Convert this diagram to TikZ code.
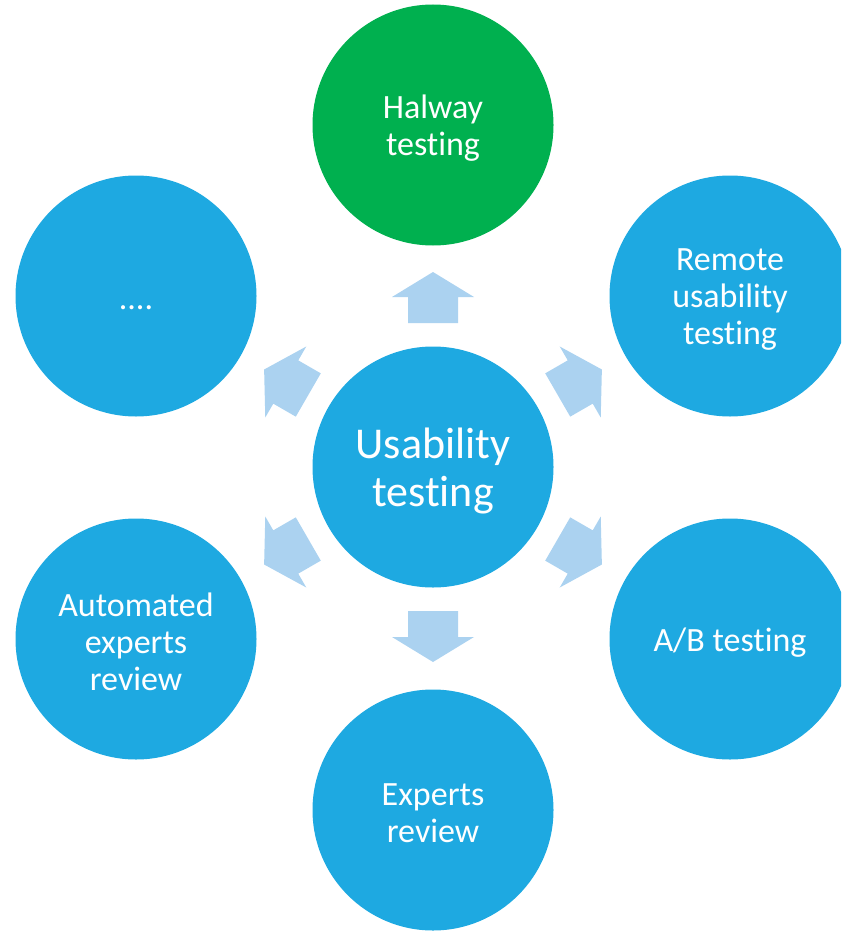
\documentclass[tikz,border=0pt]{standalone}
\usepackage{fontspec}
\setmainfont[Ligatures=CommonOff]{Carlito}
\definecolor{cblue}{HTML}{1EA9E1}
\definecolor{cgreen}{HTML}{00B04F}
\definecolor{carrow}{HTML}{ABD2F0}
\begin{document}
\begin{tikzpicture}[x=1pt,y=-1pt,
  bub/.style={circle, fill=cblue, minimum size=241pt, inner sep=0pt},
  lbl/.style={text=white, align=center, inner sep=0pt, font=\fontsize{34}{37}\selectfont},
  hublbl/.style={lbl, font=\fontsize{44}{48}\selectfont},
  blockarrow/.style={fill=carrow, draw=none}]
\useasboundingbox (0,0) rectangle (841,931);
\clip (0,0) rectangle (841,931);
\node[bub] (c) at (433,467) {};
\node[bub, fill=cgreen] (t) at (433,125) {};
\node[bub] (ur) at (730,296) {};
\node[bub] (lr) at (730,639) {};
\node[bub] (b) at (433,810) {};
\node[bub] (ll) at (136,639) {};
\node[bub] (ul) at (136,296) {};
\node[hublbl] (cl) at ([yshift=-4pt]c.center) {Usability\\testing};
\node[lbl] (tl) at ([yshift=-3pt]t.center) {Halway\\testing};
\node[lbl] (url) at ([yshift=-4pt]ur.center) {Remote\\usability\\testing};
\node[lbl] (lrl) at ([yshift=-4pt]lr.center) {A/B testing};
\node[lbl] (bl) at ([yshift=-3pt]b.center) {Experts\\review};
\node[lbl] (lll) at ([yshift=-3pt]ll.center) {Automated\\experts\\review};
\node[lbl] (ull) at ([yshift=-6pt]ul.center) {\vphantom{Hg}....};
\foreach \a in {90,30,-30,-90,-150,150}{
  \begin{scope}[shift={(c.center)}, rotate=\a]
    \fill[blockarrow] (144,-25) -- (170,-25) -- (170,-41) -- (195,0) -- (170,41) -- (170,25) -- (144,25) -- cycle;
  \end{scope}
}
\end{tikzpicture}
\end{document}
